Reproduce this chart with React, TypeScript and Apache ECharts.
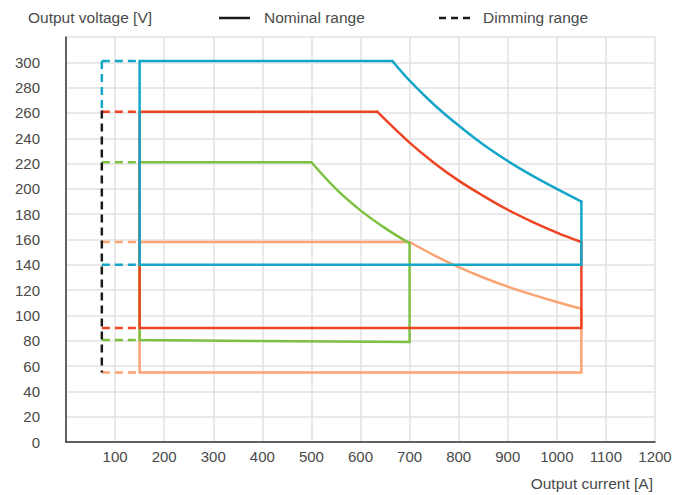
import React, { useEffect, useRef } from "react";
import * as echarts from "echarts";

// Output current [A] / Output voltage [V] outlines (nominal range, solid)
// straight edges of each operating window
const cyanEdges: [number, number][] = [
  [1050, 190], [1050, 140], [150, 140], [150, 301], [665, 301],
];
const redEdges: [number, number][] = [
  [1050, 158], [1050, 90], [150, 90], [150, 261], [634, 261],
];
const greenEdges: [number, number][] = [
  [700, 157], [700, 79], [150, 80.5], [150, 221], [500, 221],
];
const orangeEdges: [number, number][] = [
  [1050, 105], [1050, 55], [150, 55], [150, 158], [700, 158],
];
// constant-power limit curves
const cyanCurve: [number, number][] = [
  [665, 301], [700, 285.5], [750, 266.5], [800, 250], [850, 235],
  [900, 222], [950, 210.5], [1000, 200], [1050, 190],
];
const redCurve: [number, number][] = [
  [634, 261], [700, 236.5], [750, 220.5], [800, 206.5], [850, 194.5],
  [900, 183.5], [950, 174], [1000, 165.5], [1050, 158],
];
const greenCurve: [number, number][] = [
  [500, 221], [550, 200], [600, 183], [650, 169], [700, 157],
];
const orangeCurve: [number, number][] = [
  [700, 158], [750, 147.5], [800, 138.2], [850, 130], [900, 122.8],
  [950, 116.4], [1000, 110.6], [1050, 105.3],
];

// Dimming range (dashed) segments
const cyanDimming: [number, number][][] = [
  [[73, 301], [150, 301]],
  [[73, 140], [150, 140]],
  [[73, 301], [73, 262]],
];
const redDimming: [number, number][][] = [
  [[73, 261], [150, 261]],
  [[73, 90], [150, 90]],
];
const greenDimming: [number, number][][] = [
  [[73, 221], [150, 221]],
  [[73, 80.5], [150, 80.5]],
];
const orangeDimming: [number, number][][] = [
  [[73, 158], [150, 158]],
  [[73, 55], [150, 55]],
];
const blackDimming: [number, number][][] = [[[73, 262], [73, 55]]];

const xTicks = [0, 100, 200, 300, 400, 500, 600, 700, 800, 900, 1000, 1100, 1200];
const yTicks = [0, 20, 40, 60, 80, 100, 120, 140, 160, 180, 200, 220, 240, 260, 280, 300, 320];

const COLORS = {
  cyan: "#13a6c9",
  red: "#ef4423",
  green: "#7dc143",
  orange: "#fca374",
  black: "#1a1a1a",
};

const FONT = "'Liberation Sans', Arial, sans-serif";
const TEXT = "#4a4a4a";

export default function App() {
  const ref = useRef<HTMLDivElement>(null);
  useEffect(() => {
    if (!ref.current) return;
    const chart = echarts.init(ref.current, undefined, { renderer: "svg" });

    const solid = (data: [number, number][], color: string, z: number, smooth: number | boolean) => ({
      type: "line",
      data,
      showSymbol: false,
      symbol: "none",
      smooth,
      z,
      lineStyle: { color, width: 2.5, join: "miter", cap: "round" },
    });
    const dashed = (segs: [number, number][][], color: string, z: number) =>
      segs.map((d) => ({
        type: "line",
        data: d,
        symbol: "none",
        z,
        lineStyle: { color, width: 2.5, type: [8, 5] },
      }));

    const series: any[] = [
      ...dashed(orangeDimming, COLORS.orange, 2),
      ...dashed(greenDimming, COLORS.green, 2),
      ...dashed(redDimming, COLORS.red, 2),
      ...dashed(cyanDimming, COLORS.cyan, 2),
      ...dashed(blackDimming, COLORS.black, 3),
      solid(orangeEdges, COLORS.orange, 4, false),
      solid(orangeCurve, COLORS.orange, 4, 0.35),
      solid(greenEdges, COLORS.green, 5, false),
      solid(greenCurve, COLORS.green, 5, 0.35),
      solid(redEdges, COLORS.red, 6, false),
      solid(redCurve, COLORS.red, 6, 0.35),
      solid(cyanEdges, COLORS.cyan, 7, false),
      solid(cyanCurve, COLORS.cyan, 7, 0.35),
    ];

    chart.setOption({
      animation: false,
      textStyle: { fontFamily: FONT },
      grid: { left: 66, right: 25, top: 37, bottom: 53, containLabel: false },
      xAxis: {
        type: "value",
        min: xTicks[0],
        max: xTicks[xTicks.length - 1],
        interval: 100,
        axisLine: { show: true, onZero: false, lineStyle: { color: "#333", width: 1.5 } },
        axisTick: { show: false },
        axisLabel: {
          color: TEXT,
          fontSize: 15,
          fontFamily: FONT,
          margin: 7,
          formatter: (v: number) => (v === 0 ? "" : String(v)),
        },
        splitLine: { show: true, lineStyle: { color: "#e2e2e2", width: 1.5 } },
      },
      yAxis: {
        type: "value",
        min: yTicks[0],
        max: yTicks[yTicks.length - 1],
        interval: 20,
        axisLine: { show: true, onZero: false, lineStyle: { color: "#333", width: 1.5 } },
        axisTick: { show: false },
        axisLabel: {
          color: TEXT,
          fontSize: 15,
          fontFamily: FONT,
          margin: 26,
          formatter: (v: number) => (v === 320 ? "" : String(v)),
        },
        splitLine: { show: true, lineStyle: { color: "#e2e2e2", width: 1.5 } },
      },
      graphic: [
        {
          type: "text",
          left: 28,
          top: 9,
          style: { text: "Output voltage [V]", fill: TEXT, font: `15.5px ${FONT}` },
        },
        {
          type: "line",
          shape: { x1: 219, y1: 18, x2: 250, y2: 18 },
          style: { stroke: COLORS.black, lineWidth: 2.5 },
        },
        {
          type: "text",
          left: 264,
          top: 9,
          style: { text: "Nominal range", fill: TEXT, font: `15.5px ${FONT}` },
        },
        {
          type: "line",
          shape: { x1: 439, y1: 18, x2: 472, y2: 18 },
          style: { stroke: COLORS.black, lineWidth: 2.5, lineDash: [7, 5] },
        },
        {
          type: "text",
          left: 483,
          top: 9,
          style: { text: "Dimming range", fill: TEXT, font: `15.5px ${FONT}` },
        },
        {
          type: "text",
          right: 27,
          top: 475,
          style: { text: "Output current [A]", fill: TEXT, font: `15.5px ${FONT}` },
        },
      ],
      series,
    });
    return () => chart.dispose();
  }, []);

  return <div ref={ref} style={{ width: 680, height: 495, position: "absolute", left: 0, top: 0 }} />;
}
